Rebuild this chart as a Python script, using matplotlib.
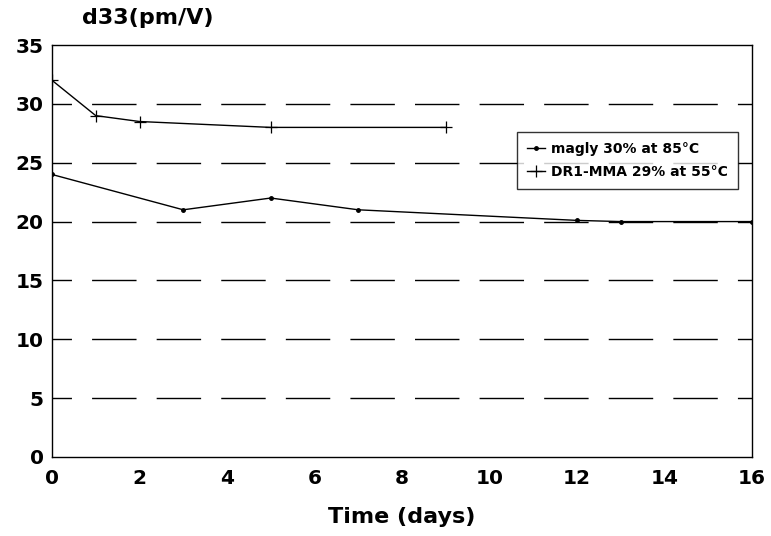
import matplotlib
matplotlib.use("Agg")
import matplotlib.pyplot as plt

# d33 decay data
magly_days = [0, 3, 5, 7, 12, 13, 16]
magly_d33 = [24, 21, 22, 21, 20.1, 20, 20]

dr1_days = [0, 1, 2, 5, 9]
dr1_d33 = [32, 29, 28.5, 28, 28]

grid_levels = [5, 10, 15, 20, 25, 30]
x_ticks = [0, 2, 4, 6, 8, 10, 12, 14, 16]
y_ticks = [0, 5, 10, 15, 20, 25, 30, 35]

plt.rcParams['font.family'] = ['DejaVu Sans']

fig = plt.figure(figsize=(7.71, 5.36), dpi=100)
ax = fig.add_axes([52 / 771, 1 - 457 / 536, 700 / 771, 412 / 536])

for lv in grid_levels:
    ax.axhline(lv, color='black', lw=1.0, linestyle=(18, (32, 14.5)), zorder=1)

ax.plot(magly_days, magly_d33, color='black', lw=1.0, marker='o', markersize=2.5,
        label='magly 30% at 85°C', zorder=3)
ax.plot(dr1_days, dr1_d33, color='black', lw=1.0, marker='+', markersize=9,
        markeredgewidth=0.9, label='DR1-MMA 29% at 55°C', zorder=3)

ax.set_xlim(0, 16)
ax.set_ylim(0, 35)
ax.set_xticks(x_ticks)
ax.set_yticks(y_ticks)
ax.tick_params(length=0, labelsize=14.5)
ax.tick_params(axis='x', pad=9)
ax.tick_params(axis='y', pad=6)
for lab in ax.get_xticklabels() + ax.get_yticklabels():
    lab.set_fontweight('bold')

ax.set_xlabel('Time (days)', fontsize=16, fontweight='bold', labelpad=13)
fig.text(82 / 771, 1 - 18 / 536, 'd33(pm/V)', fontsize=16, fontweight='bold', va='center')

leg = ax.legend(loc='upper left', bbox_to_anchor=(0.664, 0.789), fontsize=10,
                frameon=True, fancybox=False, edgecolor='black', handlelength=1.3,
                handletextpad=0.4, borderpad=0.75, labelspacing=0.6, borderaxespad=0)
leg.get_frame().set_linewidth(1.0)
for t in leg.get_texts():
    t.set_fontweight('bold')

for s in ax.spines.values():
    s.set_linewidth(1.0)

fig.savefig('out.png', dpi=100)
